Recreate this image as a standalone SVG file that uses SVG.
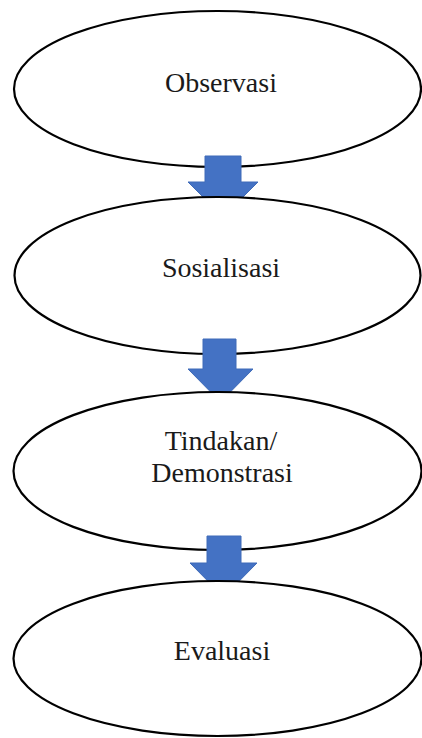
<svg xmlns="http://www.w3.org/2000/svg" width="422" height="738" viewBox="0 0 422 738">
<style>
.node ellipse{fill:#fff;stroke:#000;stroke-width:2.2}
.node text{font-family:"Liberation Serif","Times New Roman",serif;font-size:28px;fill:#1a1a1a;text-anchor:middle}
.arrow{fill:#4472C4;stroke:#3f6bb8;stroke-width:1}
</style>
<rect width="422" height="738" fill="#fff"/>
<g id="n1" class="node">
<ellipse cx="217.5" cy="89" rx="203.5" ry="78"/>
<text x="221" y="92">Observasi</text>
</g>
<g id="connectors">
<path id="a1" class="arrow" d="M205 156 H241 V182 H258 L223 217 L188 182 H205 Z"/>
</g>
<g id="n2" class="node">
<ellipse cx="217.5" cy="275.5" rx="203" ry="78.5"/>
<text x="221" y="277">Sosialisasi</text>
</g>
<g id="connectors2">
<path id="a2" class="arrow" d="M203 339 H236 V369 H253 L220.5 402 L188 369 H203 Z"/>
</g>
<g id="n3" class="node">
<ellipse cx="217.5" cy="471" rx="204" ry="79"/>
<text x="221" y="450">Tindakan/</text>
<text x="222" y="482">Demonstrasi</text>
</g>
<g id="connectors3">
<path id="a3" class="arrow" d="M207 536 H241 V563 H257 L223.5 597 L190 563 H207 Z"/>
</g>
<g id="n4" class="node">
<ellipse cx="217.5" cy="658.5" rx="204" ry="77.5"/>
<text x="222" y="660">Evaluasi</text>
</g>
</svg>
